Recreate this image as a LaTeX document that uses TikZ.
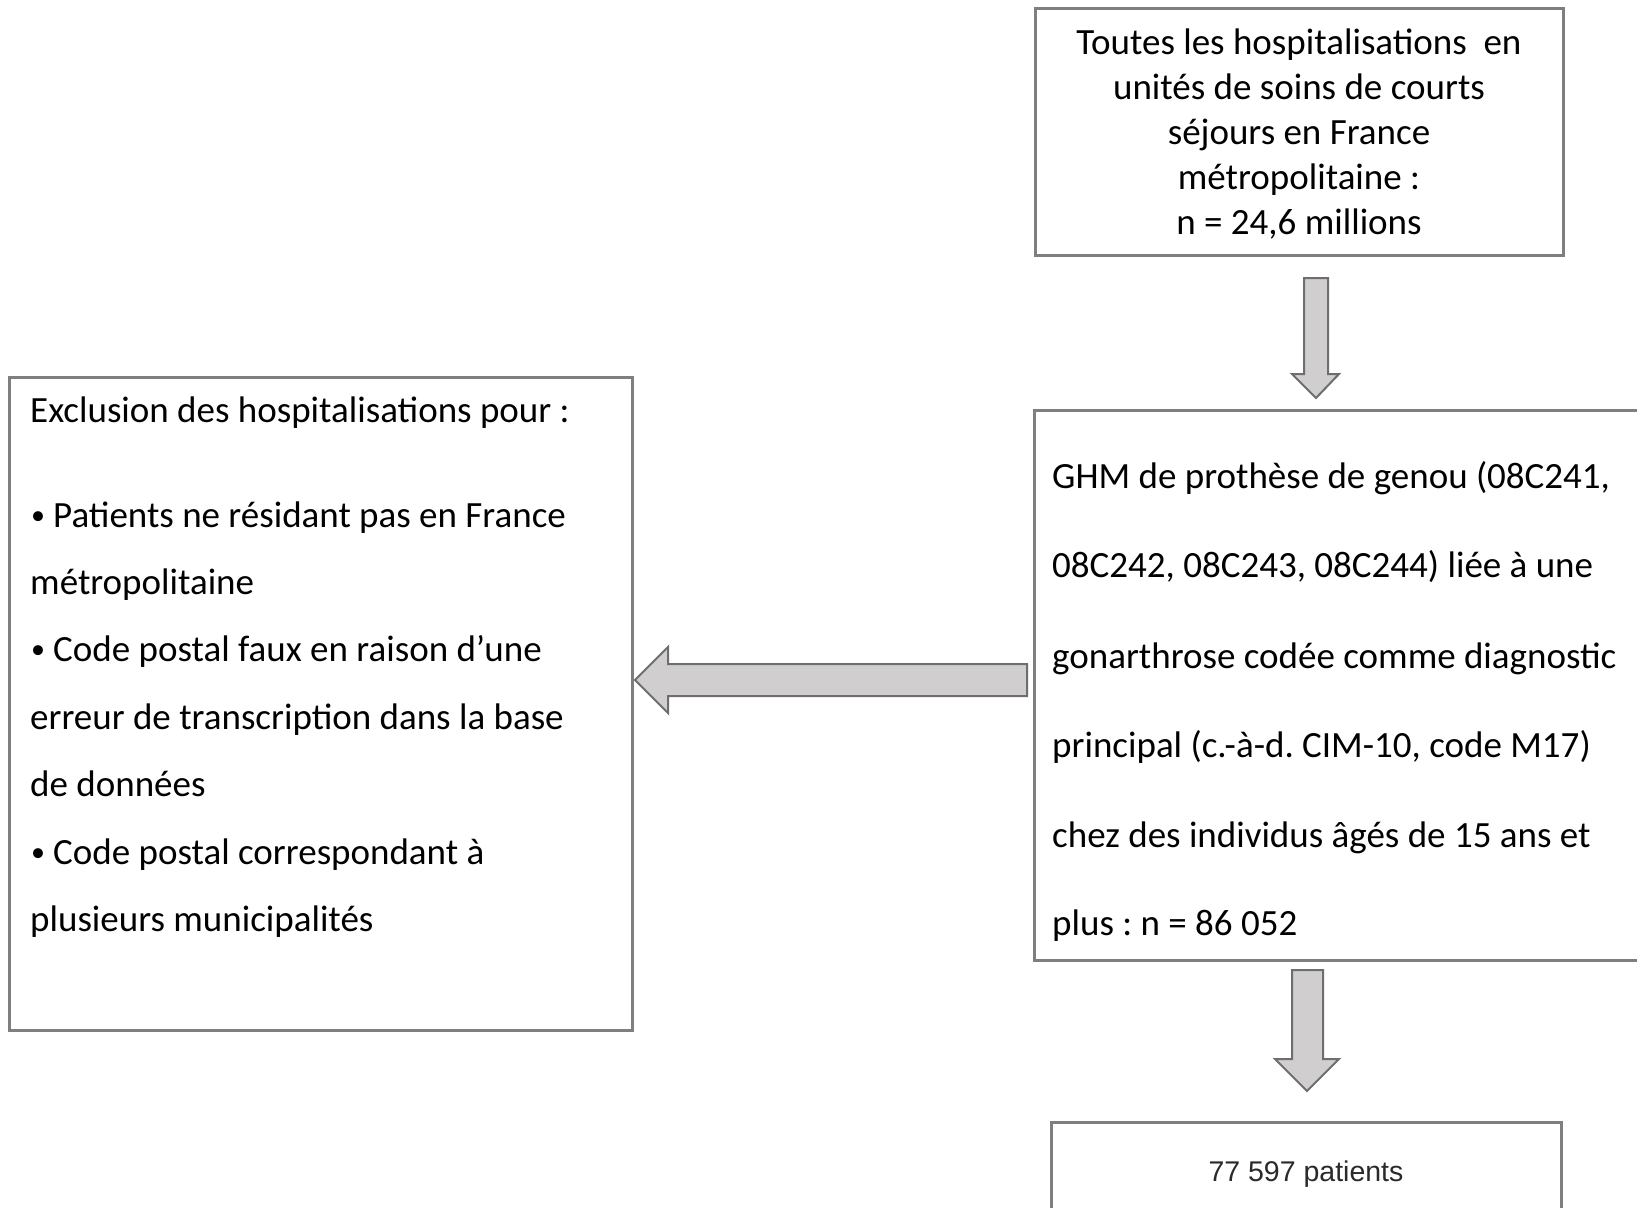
\documentclass[tikz,border=0pt]{standalone}
\usepackage{fontspec}
\setmainfont{Carlito}
\newfontfamily\arialf{Liberation Sans}
\definecolor{boxgray}{HTML}{7F7F7F}
\definecolor{arrowgray}{HTML}{6E6E6E}
\definecolor{arrowfill}{HTML}{D0CECE}
\definecolor{restxt}{HTML}{2A2A2A}
\newcommand{\mybul}{\makebox[23pt][l]{\hspace*{1pt}\raisebox{3pt}{\fontsize{28}{28}\selectfont •}}}
\frenchspacing
\begin{document}
\begin{tikzpicture}[x=1pt,y=-1pt,
  box/.style={draw=boxgray, line width=3pt, fill=white, inner sep=0pt, outer sep=0pt},
  blockarrow/.style={draw=arrowgray, line width=2pt, fill=arrowfill, line join=miter},
  txt/.style={font=\fontsize{37}{45}\selectfont, inner sep=0pt, anchor=base west}]
\useasboundingbox (0,0) rectangle (1637,1207);
\clip (0,0) rectangle (1637,1207);
\fill[white] (0,0) rectangle (1637,1207);

% boxes
\node[box, anchor=north west, minimum width=528pt, minimum height=246pt] (top) at (1035,9) {};
\node[box, anchor=north west, minimum width=640pt, minimum height=550pt] (mid) at (1034,410) {};
\node[box, anchor=north west, minimum width=623pt, minimum height=653pt] (excl) at (9,377) {};
\node[box, anchor=north west, minimum width=510pt, minimum height=120pt] (res) at (1051,1122) {};

% top text
\node[font=\fontsize{37}{45}\selectfont, align=center, inner sep=0pt] (toptext) at (1299,134)
 {Toutes les hospitalisations\ \ en\\ unités de soins de courts\\ séjours en France\\ métropolitaine :\\ n = 24,6 millions};

% left text
\node[txt] (e1) at (30,422) {Exclusion des hospitalisations pour :};
\node[txt] (e2) at (30,527) {\mybul Patients ne résidant pas en France};
\node[txt] (e3) at (30,594) {métropolitaine};
\node[txt] (e4) at (30,661) {\mybul Code postal faux en raison d’une};
\node[txt] (e5) at (30,729) {erreur de transcription dans la base};
\node[txt] (e6) at (30,796) {de données};
\node[txt] (e7) at (30,864) {\mybul Code postal correspondant à};
\node[txt] (e8) at (30,931) {plusieurs municipalités};

% right text
\node[txt] (m1) at (1052,488) {GHM de prothèse de genou (08C241,};
\node[txt] (m2) at (1052,577) {08C242, 08C243, 08C244) liée à une};
\node[txt] (m3) at (1052,668) {gonarthrose codée comme diagnostic};
\node[txt] (m4) at (1052,757) {principal (c.-à-d. CIM-10, code M17)};
\node[txt] (m5) at (1052,847) {chez des individus âgés de 15 ans et};
\node[txt] (m6) at (1052,935) {plus : n = 86 052};

% result text
\node[font=\arialf\fontsize{28.5}{34}\selectfont, text=restxt, inner sep=0pt] (r1) at (1306,1174) {77 597 patients};

% block arrows
\draw[blockarrow] (1304,278) -- (1328,278) -- (1328,374) -- (1339,374) -- (1316,398) -- (1292,374) -- (1304,374) -- cycle;
\draw[blockarrow] (1027,664) -- (1027,696) -- (668,696) -- (668,713) -- (635,680) -- (668,647) -- (668,664) -- cycle;
\draw[blockarrow] (1292,970) -- (1323,970) -- (1323,1059) -- (1339,1059) -- (1307,1091) -- (1275,1059) -- (1292,1059) -- cycle;
\end{tikzpicture}
\end{document}
